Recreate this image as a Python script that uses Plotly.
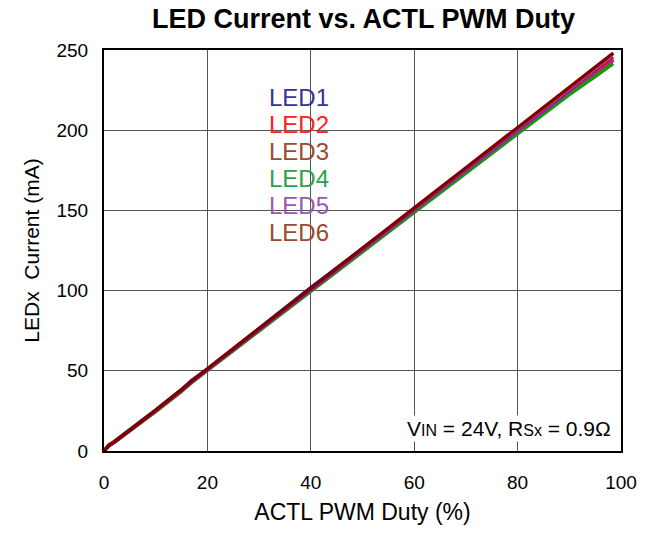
import plotly.graph_objects as go

duty = [0, 1, 2, 5, 10, 15, 17, 20, 25, 30, 35, 40, 45, 50, 55, 60, 65, 70, 75, 80, 85, 90, 95, 98.5]

led1 = [0, 3.8, 5.8, 13, 25.5, 38.3, 44, 51, 63.8, 76.5, 89, 101.8, 114, 126.3, 138.5, 150.5, 162.8, 175, 187, 199, 211, 223, 234.5, 243.5]
led2 = [0, 3.5, 5.5, 12.5, 24.8, 37.5, 43, 50.5, 63, 75.5, 88, 100, 112.5, 125, 137.5, 149.8, 162, 174.5, 186.8, 199, 211.5, 224, 236, 244]
led3 = [0, 3.6, 5.6, 12.8, 25.2, 38, 43.6, 51, 63.5, 76, 88.5, 101, 113.5, 126, 138.5, 151, 163.5, 176, 188.5, 201, 213.5, 226, 238, 247]
led4 = [0, 3.4, 5.4, 12.4, 24.6, 37.2, 42.8, 50.2, 62.6, 75, 87.4, 99.8, 112, 124.4, 136.6, 148.8, 161, 173.2, 185.4, 197.6, 209.8, 222.2, 233.5, 241.5]
led5 = [0, 3.5, 5.5, 12.6, 25, 37.6, 43.2, 50.7, 63.2, 75.7, 88.2, 100.6, 113, 125.4, 137.8, 150.2, 162.6, 175, 187.4, 199.8, 212.2, 224.6, 236.5, 245.5]
led6 = [0, 3.7, 5.8, 13, 25.5, 38.2, 43.8, 51.2, 63.8, 76.3, 88.8, 101.3, 113.8, 126.3, 138.8, 151.4, 164, 176.5, 189, 201.5, 214, 226.8, 239, 248]

series_names = ["LED1", "LED2", "LED3", "LED4", "LED5", "LED6"]
label_colors = ["#333399", "#ff2020", "#9c4a2c", "#2ea048", "#9a58b0", "#9c4a2c"]
series_values = [led1, led2, led4, led5, led3, led6]
order_names = ["LED1", "LED2", "LED4", "LED5", "LED3", "LED6"]
order_colors = ["#1a1a8c", "#ff1a1a", "#129a12", "#a01aa0", "#f0a020", "#800000"]
order_widths = [3.5, 3.5, 3.5, 3.5, 1.5, 3.5]

x_ticks = [0, 20, 40, 60, 80, 100]
y_ticks = [0, 50, 100, 150, 200, 250]

fig = go.Figure()
for name, vals, col, w in zip(order_names, series_values, order_colors, order_widths):
    fig.add_trace(go.Scatter(x=duty, y=vals, mode="lines", name=name,
                             line=dict(color=col, width=w), showlegend=False))

font_family = "Liberation Sans, Arial, sans-serif"

# white legend box
fig.add_shape(type="rect", xref="x", yref="y", x0=31.2, x1=46.2, y0=127, y1=230,
              fillcolor="white", line=dict(width=0), layer="below")

legend_y = [220.6, 203.7, 186.8, 169.9, 153.0, 136.1]
for name, col, yy in zip(series_names, label_colors, legend_y):
    fig.add_annotation(x=31.5, y=yy, xref="x", yref="y", text=name, showarrow=False,
                       xanchor="left", yanchor="middle",
                       font=dict(family=font_family, size=24, color=col))

sub = '<span style="font-size:16px">'
fig.add_annotation(x=98.5, y=13.8, xref="x", yref="y",
                   text="V" + sub + "IN</span> = 24V, R" + sub + "Sx</span> = 0.9Ω",
                   showarrow=False, xanchor="right", yanchor="middle", bgcolor="white",
                   font=dict(family=font_family, size=21, color="black"))

fig.update_layout(
    width=655, height=536,
    margin=dict(l=104, r=34, t=50, b=85),
    paper_bgcolor="white", plot_bgcolor="white",
    title=dict(text="<b>LED Current vs. ACTL PWM Duty</b>", x=0.555, xanchor="center",
               y=0.966, yanchor="middle",
               font=dict(family=font_family, size=27, color="black")),
    font=dict(family=font_family, size=19, color="black"),
)
fig.update_xaxes(range=[0, 100], tickvals=x_ticks, showgrid=True, gridcolor="#555555",
                 gridwidth=1, showline=True, linecolor="black", linewidth=2, mirror=True,
                 zeroline=False, ticks="", ticklabelstandoff=13,
                 title=dict(text="ACTL PWM Duty (%)", font=dict(size=23), standoff=12),
                 tickfont=dict(size=19))
fig.update_yaxes(range=[0, 250], tickvals=y_ticks, showgrid=True, gridcolor="#555555",
                 gridwidth=1, showline=True, linecolor="black", linewidth=2, mirror=True,
                 zeroline=False, ticks="", ticklabelstandoff=10,
                 title=dict(text="LEDx  Current (mA)", font=dict(size=21), standoff=11),
                 tickfont=dict(size=19))

fig.write_html("out.html", config={"displayModeBar": False},
               post_script="document.body.style.margin='0';")
